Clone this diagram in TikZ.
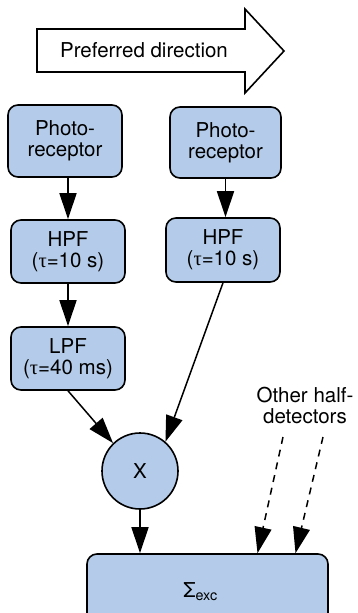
\documentclass[tikz,border=0pt]{standalone}
\usepackage{fontspec}
\setmainfont{TeX Gyre Heros}
\newfontfamily\grk{Liberation Serif}
\usetikzlibrary{arrows.meta}
\definecolor{boxblue}{RGB}{180,204,233}
\tikzset{
  blk/.style={draw, line width=1.6, fill=boxblue, rounded corners=10, align=center, inner sep=0,
    font=\fontsize{20.5}{21}\selectfont},
  rnd/.style={draw, line width=1.6, fill=boxblue, circle, inner sep=0,
    font=\fontsize{20.5}{21}\selectfont},
  txt/.style={align=center, inner sep=0, font=\fontsize{20.5}{21}\selectfont},
  conn/.style={line width=1.5, -{Triangle[length=26,width=17]}},
}
\begin{document}
\begin{tikzpicture}[x=1pt,y=1pt,yscale=-1,xscale=1]
\useasboundingbox (0,0) rectangle (358,613);
\clip (0,0) rectangle (358,613);

%Shape: Arrow
\draw [line width=1.6, fill=white] (37,29) -- (245,29) -- (245,9) -- (284,51) -- (245,93) -- (245,72) -- (37,72) -- cycle ;
% Text Node
\node [txt] (pref) at (144,50.5) {Preferred direction};

%Shape: Rectangle
\node [blk, minimum width=114, minimum height=72] (photoL) at (65,141) {Photo-\\receptor};
\node [blk, minimum width=111, minimum height=71] (photoR) at (225.5,142.5) {Photo-\\receptor};
\node [blk, minimum width=114, minimum height=63] (hpfL) at (68,251.5) {HPF\\({\grk τ}=10 s)};
\node [blk, minimum width=114, minimum height=64] (hpfR) at (223,250) {HPF\\({\grk τ}=10 s)};
\node [blk, minimum width=114, minimum height=63] (lpfL) at (68,358.5) {LPF\\({\grk τ}=40 ms)};
%Shape: Circle
\node [rnd, minimum size=76] (mult) at (140,471) {X};
%Shape: Rectangle
\node [blk, minimum width=241, minimum height=76] (sigma) at (207.5,592) {Σ\textsubscript{exc}\hspace*{14pt}};

% Text Node
\node [txt] (other) at (305,405) {Other half-\\detectors};
\coordinate (o1) at (283,437);
\coordinate (o2) at (323,437);

%Straight Lines
\draw [conn] (hpfL.north |- photoL.south) -- (hpfL.north) ;
\draw [conn] (hpfL.south) -- (lpfL.north) ;
\draw [conn] (photoR.south) -- (photoR.south |- hpfR.north) ;
\draw [conn] (lpfL.south) -- (mult.134) ;
\draw [conn] (hpfR.south) -- (mult.49) ;
\draw [conn] (mult.south) -- (mult.south |- sigma.north) ;
%Dashed Lines
\draw [conn, dash pattern=on 7 off 6] (o1) -- ([xshift=50]sigma.north) ;
\draw [conn, dash pattern=on 7 off 6] (o2) -- ([xshift=88]sigma.north) ;
\end{tikzpicture}
\end{document}
